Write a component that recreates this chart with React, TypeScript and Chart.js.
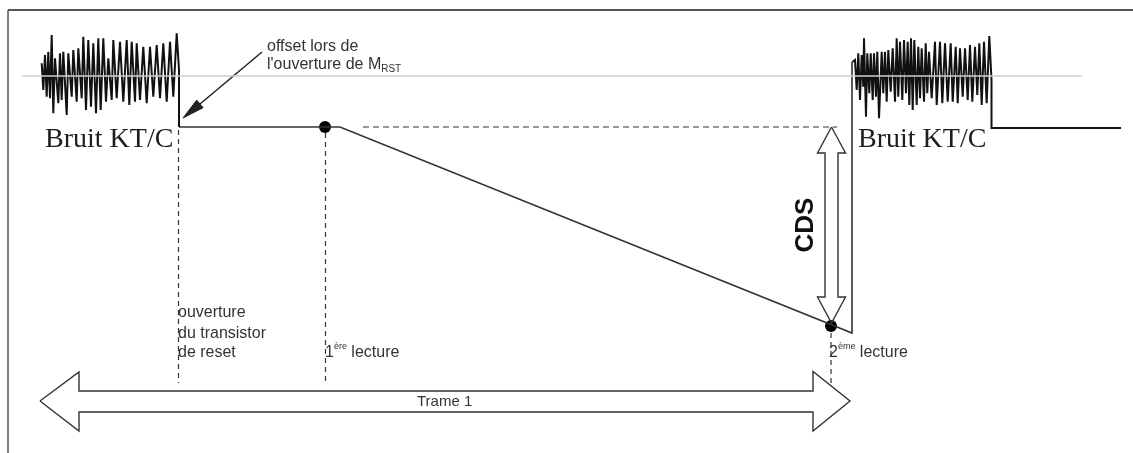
import { useEffect, useRef } from "react";
import { Chart, registerables } from "chart.js";

Chart.register(...registerables);

// Diagram coordinates: x = time axis (0..1133), y = level axis (0..453, drawn top-down)
const X_RANGE = [0, 1133];
const Y_RANGE = [0, 453];

// Frame and reference level
const frameTopX = [8, 1133];
const frameTopY = [10, 10];
const frameLeftX = [8, 8];
const frameLeftY = [10, 453];
const refLevelX = [22, 1082];
const refLevelY = [76, 76];

// kT/C noise before reset opening
const noiseLeftX = [41.7, 43.3, 45, 46.7, 48.3, 50, 51.7, 53.3, 55, 58.3, 60, 61.7, 63.3, 66.7, 68.3, 71.7, 73.3, 76.7, 78.3, 81.7, 83.3, 86, 88.3, 91, 93.3, 96, 98.3, 100.7, 103.3, 106, 108.3, 111.7, 113.3, 116.7, 120, 123.3, 126.7, 129.3, 131.7, 135, 136.7, 140, 143.3, 146.7, 150, 153.3, 156.7, 160, 163.3, 166.7, 170, 173.3, 176.7, 179, 179];
const noiseLeftY = [63.3, 90, 55, 96.7, 51.7, 98.3, 35, 113.3, 58.3, 103.3, 53.3, 100, 51.7, 115, 53.3, 96.7, 50, 101.7, 48.3, 98.3, 36.7, 110, 40, 106.7, 43.3, 113.3, 38.3, 110, 38.3, 101.7, 58.3, 100, 40, 98.3, 41.7, 101.7, 40, 105, 41.7, 101.7, 43.3, 100, 46.7, 103.3, 46.7, 96.7, 45, 98.3, 43.3, 101.7, 41.7, 96.7, 33.3, 70, 127];

// Pixel signal: reset offset, integration ramp, back to reset
const signalX = [179, 340, 852, 852];
const signalY = [127, 127, 333, 62];

// kT/C noise of the next reset
const noiseRightX = [852.3, 855, 856.7, 858.3, 860, 861.7, 863.3, 864, 866, 867.3, 869.3, 870.7, 872.7, 874, 876, 877.3, 879, 881.7, 883.3, 885, 886.7, 888.3, 890.7, 892.7, 895, 896.7, 898.3, 900, 902.3, 904, 906, 907.7, 909.3, 911, 912.7, 914.3, 916.7, 918.3, 920, 921.7, 924, 925.7, 927.3, 929, 931.7, 935, 936.7, 940, 942.3, 945, 947.7, 950.7, 952.7, 955.7, 957.7, 960, 962.7, 965, 967.7, 970, 972.3, 975, 977.3, 979.3, 981.7, 984, 986.7, 989.3, 991.5, 991.5, 1121];
const noiseRightY = [62, 60, 90, 53.3, 100, 55, 86.7, 38.3, 116.7, 53.3, 93.3, 53.3, 100, 53.3, 96.7, 51.7, 118.3, 51.7, 93.3, 51.7, 101.7, 50, 91.7, 48.3, 101.7, 38.3, 96.7, 41.7, 100, 40, 93.3, 41.7, 105, 38.3, 110, 40, 105, 46.7, 98.3, 48.3, 101.7, 43.3, 93.3, 51.7, 98.3, 41.7, 105, 41.7, 103.3, 43.3, 101.7, 43.3, 101.7, 46.7, 103.3, 48.3, 96.7, 48.3, 100, 45, 101.7, 46.7, 95, 43.3, 105, 41.7, 103.3, 36, 80, 128, 128];

// Readings (1st and 2nd)
const readingsX = [325, 831];
const readingsY = [127, 326];

// Reference level of the first reading, and time markers
const cdsRefX = [363, 837];
const cdsRefY = [127, 127];
const markResetX = [178.5, 178.5];
const markResetY = [130, 383];
const mark1X = [325.5, 325.5];
const mark1Y = [133, 383];
const mark2X = [831, 831];
const mark2Y = [333, 383];

// Offset pointer arrow
const pointerX = [262, 200];
const pointerY = [52, 104];
const pointerHeadX = [183, 203.1, 196.7, 183];
const pointerHeadY = [118, 107.7, 100.1, 118];

// CDS double arrow outline
const cdsArrowX = [831.5, 845.5, 838, 838, 845.5, 831.5, 817.5, 825, 825, 817.5, 831.5];
const cdsArrowY = [127, 153, 153, 297, 297, 323, 297, 297, 153, 153, 127];

// Frame ("Trame 1") double arrow outline
const frameArrowX = [40, 79, 79, 813, 813, 850, 813, 813, 79, 79, 40];
const frameArrowY = [401, 372, 391, 391, 371.5, 401, 431, 412, 412, 431, 401];

// Texts
const noiseLabel = "Bruit KT/C";
const offsetLine1 = "offset lors de";
const offsetLine2 = "l'ouverture de M";
const offsetSub = "RST";
const resetLines = ["ouverture", "du transistor", "de reset"];
const read1 = ["1", "ère", " lecture"];
const read2 = ["2", "ème", " lecture"];
const frameLabel = "Trame 1";
const cdsLabel = "CDS";

const pts = (xs: number[], ys: number[]) => xs.map((x, i) => ({ x, y: ys[i] }));

type Run = { t: string; size: number; dy?: number; weight?: string; family?: string };

const SANS = '"Liberation Sans", Arial, sans-serif';
const SERIF = '"Liberation Serif", "Times New Roman", serif';

function drawRuns(ctx: CanvasRenderingContext2D, x: number, y: number, runs: Run[]) {
  let cx = x;
  for (const r of runs) {
    ctx.font = `${r.weight || "normal"} ${r.size}px ${r.family || SANS}`;
    ctx.fillText(r.t, cx, y + (r.dy || 0));
    cx += ctx.measureText(r.t).width;
  }
}

const textPlugin = {
  id: "diagramTexts",
  afterDatasetsDraw(chart: any) {
    const { ctx, scales } = chart;
    const px = (v: number) => scales.x.getPixelForValue(v);
    const py = (v: number) => scales.y.getPixelForValue(v);
    ctx.save();
    ctx.fillStyle = "#1e1e1e";
    ctx.textBaseline = "alphabetic";
    ctx.textAlign = "left";

    drawRuns(ctx, px(45), py(147), [{ t: noiseLabel, size: 28, family: SERIF }]);
    drawRuns(ctx, px(858), py(147), [{ t: noiseLabel, size: 28, family: SERIF }]);

    ctx.fillStyle = "#333";
    drawRuns(ctx, px(267), py(51), [{ t: offsetLine1, size: 16 }]);
    drawRuns(ctx, px(267), py(69), [
      { t: offsetLine2, size: 16 },
      { t: offsetSub, size: 10, dy: 3 },
    ]);

    resetLines.forEach((l, i) => {
      drawRuns(ctx, px(178), py([317, 337.5, 357][i]), [{ t: l, size: 16 }]);
    });

    drawRuns(ctx, px(325), py(357), [
      { t: read1[0], size: 16 },
      { t: read1[1], size: 9, dy: -8 },
      { t: read1[2], size: 16 },
    ]);
    drawRuns(ctx, px(829), py(357), [
      { t: read2[0], size: 16 },
      { t: read2[1], size: 9, dy: -8 },
      { t: read2[2], size: 16 },
    ]);

    drawRuns(ctx, px(417), py(406), [{ t: frameLabel, size: 15 }]);

    ctx.save();
    ctx.translate(px(805), py(225));
    ctx.rotate(-Math.PI / 2);
    ctx.textAlign = "center";
    ctx.textBaseline = "middle";
    ctx.fillStyle = "#111";
    ctx.font = `bold 26px ${SANS}`;
    ctx.fillText(cdsLabel, 0, 1);
    ctx.restore();

    ctx.restore();
  },
};

export default function App() {
  const ref = useRef<HTMLCanvasElement | null>(null);

  useEffect(() => {
    if (!ref.current) return;
    const line = (data: any, color: string, width: number, extra: any = {}) => ({
      data,
      showLine: true,
      borderColor: color,
      borderWidth: width,
      pointRadius: 0,
      pointHoverRadius: 0,
      fill: false,
      tension: 0,
      ...extra,
    });
    const chart = new Chart(ref.current, {
      type: "scatter",
      data: {
        datasets: [
          line(pts(frameTopX, frameTopY), "#555", 2),
          line(pts(frameLeftX, frameLeftY), "#555", 1.5),
          line(pts(refLevelX, refLevelY), "#cfcfcf", 1.5),
          line(pts(cdsRefX, cdsRefY), "#333", 1, { borderDash: [6, 4] }),
          line(pts(markResetX, markResetY), "#333", 1.2, { borderDash: [5, 4] }),
          line(pts(mark1X, mark1Y), "#333", 1.2, { borderDash: [5, 4] }),
          line(pts(mark2X, mark2Y), "#333", 1.2, { borderDash: [5, 4] }),
          line(pts(noiseLeftX, noiseLeftY), "#111", 2),
          line(pts(signalX, signalY), "#333", 1.6),
          line(pts(noiseRightX, noiseRightY), "#111", 2),
          line(pts(pointerX, pointerY), "#222", 1.5),
          line(pts(pointerHeadX, pointerHeadY), "#222", 1, { fill: "shape", backgroundColor: "#222" }),
          line(pts(cdsArrowX, cdsArrowY), "#333", 1.4),
          line(pts(frameArrowX, frameArrowY), "#333", 1.4),
          {
            data: pts(readingsX, readingsY),
            showLine: false,
            pointRadius: 6,
            pointHoverRadius: 6,
            pointBackgroundColor: "#000",
            pointBorderColor: "#000",
            pointBorderWidth: 0,
          },
        ],
      },
      options: {
        animation: false,
        responsive: true,
        maintainAspectRatio: false,
        events: [],
        layout: { padding: 0, autoPadding: false },
        plugins: { legend: { display: false }, tooltip: { enabled: false } },
        scales: {
          x: { type: "linear", min: X_RANGE[0], max: X_RANGE[1], display: false },
          y: { type: "linear", min: Y_RANGE[0], max: Y_RANGE[1], reverse: true, display: false },
        },
      } as any,
      plugins: [textPlugin],
    });
    return () => chart.destroy();
  }, []);

  return (
    <div style={{ position: "fixed", left: 0, top: 0, width: 1133, height: 453, background: "#fff" }}>
      <canvas ref={ref} />
    </div>
  );
}
